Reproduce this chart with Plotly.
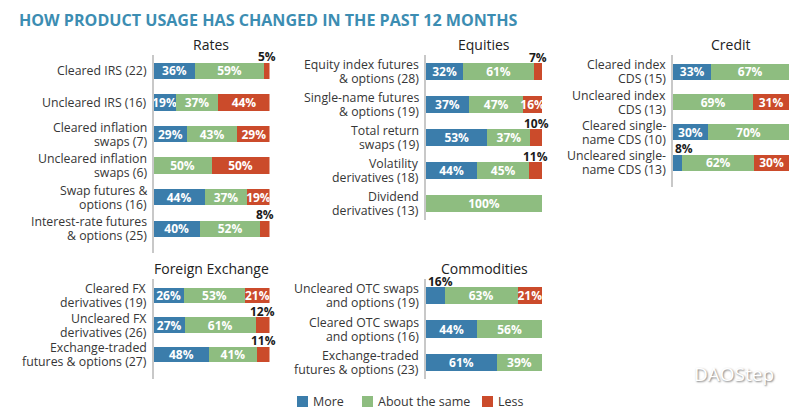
import plotly.graph_objects as go

# colours
BLUE = "#3b7dab"
GREEN = "#8ebd80"
RED = "#cb4b2b"
TEAL = "#3c8db2"
INK = "#363636"
FONT = "Open Sans"

series_names = ["More", "About the same", "Less"]

rates_labels = ["Cleared IRS (22)", "Uncleared IRS (16)", "Cleared inflation<br>swaps (7)",
                "Uncleared inflation<br>swaps (6)", "Swap futures &<br>options (16)",
                "Interest-rate futures<br>& options (25)"]
rates_more = [36, 19, 29, 0, 44, 40]
rates_same = [59, 37, 43, 50, 37, 52]
rates_less = [5, 44, 29, 50, 19, 8]

equities_labels = ["Equity index futures<br>& options (28)", "Single-name futures<br>& options (19)",
                   "Total return<br>swaps (19)", "Volatility<br>derivatives (18)",
                   "Dividend<br>derivatives (13)"]
equities_more = [32, 37, 53, 44, 0]
equities_same = [61, 47, 37, 45, 100]
equities_less = [7, 16, 10, 11, 0]

credit_labels = ["Cleared index<br>CDS (15)", "Uncleared index<br>CDS (13)",
                 "Cleared single-<br>name CDS (10)", "Uncleared single-<br>name CDS (13)"]
credit_more = [33, 0, 30, 8]
credit_same = [67, 69, 70, 62]
credit_less = [0, 31, 0, 30]

fx_labels = ["Cleared FX<br>derivatives (19)", "Uncleared FX<br>derivatives (26)",
             "Exchange-traded<br>futures & options (27)"]
fx_more = [26, 27, 48]
fx_same = [53, 61, 41]
fx_less = [21, 12, 11]

commod_labels = ["Uncleared OTC swaps<br>and options (19)", "Cleared OTC swaps<br>and options (16)",
                 "Exchange-traded<br>futures & options (23)"]
commod_more = [16, 44, 61]
commod_same = [63, 56, 39]
commod_less = [21, 0, 0]

panels = [
    ("Rates", rates_labels, [rates_more, rates_same, rates_less]),
    ("Equities", equities_labels, [equities_more, equities_same, equities_less]),
    ("Credit", credit_labels, [credit_more, credit_same, credit_less]),
    ("Foreign Exchange", fx_labels, [fx_more, fx_same, fx_less]),
    ("Commodities", commod_labels, [commod_more, commod_same, commod_less]),
]

# the page body adds an 8px margin, so the figure is drawn 8px smaller
OFF = 8
W, H = 800 - OFF, 410 - OFF


def px(x):
    return (x - OFF) / W


def py(y):
    return 1 - (y - OFF) / H


# panel boxes in screen pixels: (left, right, top, bottom)
boxes = [
    (153.5, 269.5, 55.2, 253.2),
    (426, 542, 55.2, 220.2),
    (673, 789, 55.2, 187.2),
    (153.5, 269.5, 279.2, 378.8),
    (426, 542, 279.2, 378.8),
]
title_xy = [(211.5, 45), (484, 45), (731, 44), (211.5, 268), (484, 268)]

# labels too small for their segment sit above the bar
extra_outside = {(4, 0, 0)}
colors = [BLUE, GREEN, RED]

fig = go.Figure()
annotations = []
shapes = []

for p, (name, labels, series) in enumerate(panels):
    ax = "" if p == 0 else str(p + 1)
    starts = [0] * len(labels)
    for s, vals in enumerate(series):
        texts = []
        for r, v in enumerate(vals):
            outside = v > 0 and (v <= 12 or (p, r, s) in extra_outside)
            if outside:
                x0 = starts[r]
                annotations.append(dict(
                    xref="x" + ax, yref="y" + ax,
                    x=x0 if x0 == 0 else x0 + v / 2, y=labels[r],
                    xanchor="left" if x0 == 0 else "center", yanchor="middle",
                    yshift=14, text=f"<b>{v}%</b>", showarrow=False,
                    font=dict(family=FONT, size=12, color="#1a1a1a")))
            texts.append("" if v == 0 or outside else f"<b>{v}%</b>")
        fig.add_trace(go.Bar(
            x=vals, y=labels, orientation="h", name=series_names[s],
            marker=dict(color=colors[s], line=dict(width=0)),
            text=texts, textposition="inside", insidetextanchor="middle",
            textfont=dict(family=FONT, size=12, color="white"),
            hoverinfo="skip", showlegend=False,
            xaxis="x" + ax, yaxis="y" + ax))
        starts = [a + b for a, b in zip(starts, vals)]

    # row labels, one annotation per line so the lines sit tight together
    for lab in labels:
        lines = lab.split("<br>")
        for i, line in enumerate(lines):
            shift = 0 if len(lines) == 1 else (7 if i == 0 else -7)
            annotations.append(dict(
                xref="x" + ax, yref="y" + ax, x=0, y=lab, xanchor="right",
                yanchor="middle", xshift=-6, yshift=shift, text=line, showarrow=False,
                borderpad=0, font=dict(family=FONT, size=12.3, color=INK)))

    l, r_, t, b = boxes[p]
    fig.layout["xaxis" + ax] = dict(domain=[px(l), px(r_)], range=[0, 100], visible=False,
                                    anchor="y" + ax, fixedrange=True, automargin=False)
    fig.layout["yaxis" + ax] = dict(
        domain=[py(b), py(t)], anchor="x" + ax, type="category", autorange="reversed",
        showline=True, linecolor="#c8c8c8", linewidth=1.5, showgrid=False,
        ticks="", showticklabels=False, automargin=False, fixedrange=True)
    annotations.append(dict(
        xref="paper", yref="paper", x=px(title_xy[p][0]), y=py(title_xy[p][1]),
        text=name, showarrow=False, xanchor="center", yanchor="middle",
        font=dict(family=FONT, size=14, color="#222222")))

# legend drawn as keys + labels along the bottom
legend_x = [297, 362, 482]
for s, nm in enumerate(series_names):
    shapes.append(dict(type="rect", xref="paper", yref="paper",
                       x0=px(legend_x[s]), x1=px(legend_x[s] + 11), y0=py(407), y1=py(396),
                       fillcolor=colors[s], line=dict(width=0)))
    annotations.append(dict(
        xref="paper", yref="paper", x=px(legend_x[s] + 14), y=py(401.5), xanchor="left",
        yanchor="middle", text=nm, showarrow=False,
        font=dict(family=FONT, size=12.5, color=INK)))

annotations.append(dict(
    xref="paper", yref="paper", x=px(17), y=py(20), xanchor="left", yanchor="middle",
    text="<b>HOW PRODUCT USAGE HAS CHANGED IN THE PAST 12 MONTHS</b>", showarrow=False,
    font=dict(family=FONT, size=16.1, color=TEAL)))
annotations.append(dict(
    xref="paper", yref="paper", x=px(692), y=py(374), xanchor="left", yanchor="middle",
    text="DAOStep", showarrow=False,
    font=dict(family=FONT, size=19, color="white", shadow="1px 1px 2px #777")))

fig.update_layout(
    width=W, height=H, margin=dict(l=0, r=0, t=0, b=0),
    paper_bgcolor="white", plot_bgcolor="white",
    barmode="stack", bargap=0.48, showlegend=False,
    uniformtext=dict(minsize=12, mode="show"),
    annotations=annotations, shapes=shapes,
)

fig.write_html("out.html")
